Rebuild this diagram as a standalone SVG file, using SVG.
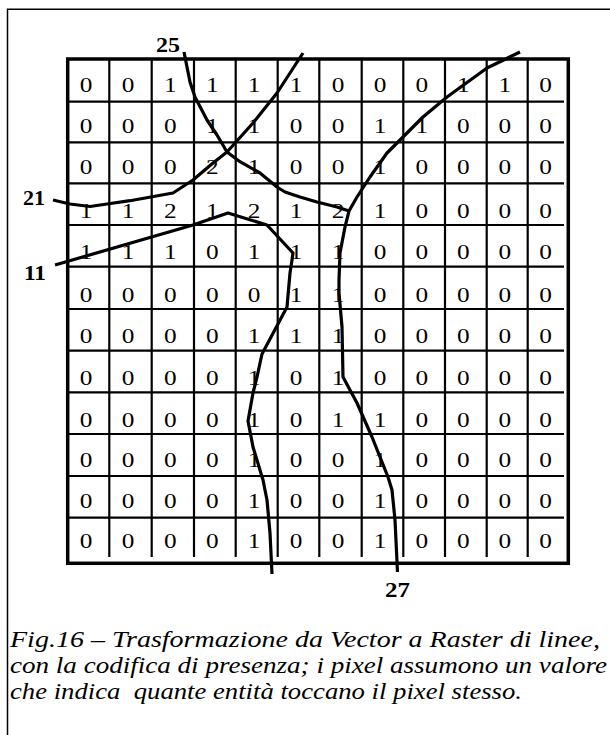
<svg xmlns="http://www.w3.org/2000/svg" width="610" height="735" viewBox="0 0 610 735">
<style>
.frame{fill:none;stroke:#000;stroke-width:1.5}
.border{fill:none;stroke:#000;stroke-width:3.5}
.gl{stroke:#000;stroke-width:2.2}
.cv{fill:none;stroke:#000;stroke-width:3.2;stroke-linejoin:round;stroke-linecap:butt}
.d{font-family:"Liberation Serif","Times New Roman",serif;font-size:22px;text-anchor:middle;fill:#000}
.lb{font-family:"Liberation Serif","Times New Roman",serif;font-size:21px;font-weight:bold;fill:#000}
.cap{font-family:"Liberation Serif","Times New Roman",serif;font-size:24px;font-style:italic;fill:#000}
</style>
<rect width="610" height="735" fill="#fff"/>
<path class="frame" d="M7.5 735 V9.3 H610"/>
<g id="grid">
<rect class="border" x="67.7" y="59" width="500.6" height="504.3"/>
<g class="gl">
<line x1="109.3" y1="59" x2="109.3" y2="557"/>
<line x1="151.7" y1="59" x2="151.7" y2="557"/>
<line x1="194" y1="59" x2="194" y2="557"/>
<line x1="235.7" y1="59" x2="235.7" y2="557"/>
<line x1="277.7" y1="59" x2="277.7" y2="557"/>
<line x1="319.3" y1="59" x2="319.3" y2="557"/>
<line x1="361.7" y1="59" x2="361.7" y2="557"/>
<line x1="403.3" y1="59" x2="403.3" y2="557"/>
<line x1="445" y1="59" x2="445" y2="557"/>
<line x1="486.7" y1="59" x2="486.7" y2="557"/>
<line x1="527.7" y1="59" x2="527.7" y2="557"/>
<line x1="68" y1="101.7" x2="564" y2="101.7"/>
<line x1="68" y1="142.3" x2="564" y2="142.3"/>
<line x1="68" y1="183.3" x2="564" y2="183.3"/>
<line x1="68" y1="225" x2="564" y2="225"/>
<line x1="68" y1="266.7" x2="564" y2="266.7"/>
<line x1="68" y1="309" x2="564" y2="309"/>
<line x1="68" y1="350.7" x2="564" y2="350.7"/>
<line x1="68" y1="392.3" x2="564" y2="392.3"/>
<line x1="68" y1="434" x2="564" y2="434"/>
<line x1="68" y1="476" x2="564" y2="476"/>
<line x1="68" y1="517.7" x2="564" y2="517.7"/>
</g>
</g>
<g id="cells" class="d" transform="scale(1.15 1)">
<g id="row0"><text x="74.8" y="92">0</text><text x="111.3" y="92">0</text><text x="148.1" y="92">1</text><text x="184.7" y="92">1</text><text x="221" y="92">1</text><text x="257.4" y="92">1</text><text x="293.9" y="92">0</text><text x="330.4" y="92">0</text><text x="366.7" y="92">0</text><text x="402.9" y="92">1</text><text x="438.9" y="92">1</text><text x="474.4" y="92">0</text></g>
<g id="row1"><text x="74.8" y="133">0</text><text x="111.3" y="133">0</text><text x="148.1" y="133">0</text><text x="184.7" y="133">1</text><text x="221" y="133">1</text><text x="257.4" y="133">0</text><text x="293.9" y="133">0</text><text x="330.4" y="133">1</text><text x="366.7" y="133">1</text><text x="402.9" y="133">0</text><text x="438.9" y="133">0</text><text x="474.4" y="133">0</text></g>
<g id="row2"><text x="74.8" y="174.3">0</text><text x="111.3" y="174.3">0</text><text x="148.1" y="174.3">0</text><text x="184.7" y="174.3">2</text><text x="221" y="174.3">1</text><text x="257.4" y="174.3">0</text><text x="293.9" y="174.3">0</text><text x="330.4" y="174.3">1</text><text x="366.7" y="174.3">0</text><text x="402.9" y="174.3">0</text><text x="438.9" y="174.3">0</text><text x="474.4" y="174.3">0</text></g>
<g id="row3"><text x="74.8" y="218.5">1</text><text x="111.3" y="218.5">1</text><text x="148.1" y="218.5">2</text><text x="184.7" y="218.5">1</text><text x="221" y="218.5">2</text><text x="257.4" y="218.5">1</text><text x="293.9" y="218.5">2</text><text x="330.4" y="218.5">1</text><text x="366.7" y="218.5">0</text><text x="402.9" y="218.5">0</text><text x="438.9" y="218.5">0</text><text x="474.4" y="218.5">0</text></g>
<g id="row4"><text x="74.8" y="259.5">1</text><text x="111.3" y="259.5">1</text><text x="148.1" y="259.5">1</text><text x="184.7" y="259.5">0</text><text x="221" y="259.5">1</text><text x="257.4" y="259.5">1</text><text x="293.9" y="259.5">1</text><text x="330.4" y="259.5">0</text><text x="366.7" y="259.5">0</text><text x="402.9" y="259.5">0</text><text x="438.9" y="259.5">0</text><text x="474.4" y="259.5">0</text></g>
<g id="row5"><text x="74.8" y="302">0</text><text x="111.3" y="302">0</text><text x="148.1" y="302">0</text><text x="184.7" y="302">0</text><text x="221" y="302">0</text><text x="257.4" y="302">1</text><text x="293.9" y="302">1</text><text x="330.4" y="302">0</text><text x="366.7" y="302">0</text><text x="402.9" y="302">0</text><text x="438.9" y="302">0</text><text x="474.4" y="302">0</text></g>
<g id="row6"><text x="74.8" y="343.5">0</text><text x="111.3" y="343.5">0</text><text x="148.1" y="343.5">0</text><text x="184.7" y="343.5">0</text><text x="221" y="343.5">1</text><text x="257.4" y="343.5">1</text><text x="293.9" y="343.5">1</text><text x="330.4" y="343.5">0</text><text x="366.7" y="343.5">0</text><text x="402.9" y="343.5">0</text><text x="438.9" y="343.5">0</text><text x="474.4" y="343.5">0</text></g>
<g id="row7"><text x="74.8" y="385.2">0</text><text x="111.3" y="385.2">0</text><text x="148.1" y="385.2">0</text><text x="184.7" y="385.2">0</text><text x="221" y="385.2">1</text><text x="257.4" y="385.2">0</text><text x="293.9" y="385.2">1</text><text x="330.4" y="385.2">0</text><text x="366.7" y="385.2">0</text><text x="402.9" y="385.2">0</text><text x="438.9" y="385.2">0</text><text x="474.4" y="385.2">0</text></g>
<g id="row8"><text x="74.8" y="427">0</text><text x="111.3" y="427">0</text><text x="148.1" y="427">0</text><text x="184.7" y="427">0</text><text x="221" y="427">1</text><text x="257.4" y="427">0</text><text x="293.9" y="427">1</text><text x="330.4" y="427">1</text><text x="366.7" y="427">0</text><text x="402.9" y="427">0</text><text x="438.9" y="427">0</text><text x="474.4" y="427">0</text></g>
<g id="row9"><text x="74.8" y="467">0</text><text x="111.3" y="467">0</text><text x="148.1" y="467">0</text><text x="184.7" y="467">0</text><text x="221" y="467">1</text><text x="257.4" y="467">0</text><text x="293.9" y="467">0</text><text x="330.4" y="467">1</text><text x="366.7" y="467">0</text><text x="402.9" y="467">0</text><text x="438.9" y="467">0</text><text x="474.4" y="467">0</text></g>
<g id="row10"><text x="74.8" y="508.5">0</text><text x="111.3" y="508.5">0</text><text x="148.1" y="508.5">0</text><text x="184.7" y="508.5">0</text><text x="221" y="508.5">1</text><text x="257.4" y="508.5">0</text><text x="293.9" y="508.5">0</text><text x="330.4" y="508.5">1</text><text x="366.7" y="508.5">0</text><text x="402.9" y="508.5">0</text><text x="438.9" y="508.5">0</text><text x="474.4" y="508.5">0</text></g>
<g id="row11"><text x="74.8" y="548.5">0</text><text x="111.3" y="548.5">0</text><text x="148.1" y="548.5">0</text><text x="184.7" y="548.5">0</text><text x="221" y="548.5">1</text><text x="257.4" y="548.5">0</text><text x="293.9" y="548.5">0</text><text x="330.4" y="548.5">1</text><text x="366.7" y="548.5">0</text><text x="402.9" y="548.5">0</text><text x="438.9" y="548.5">0</text><text x="474.4" y="548.5">0</text></g>
</g>
<g id="connectors">
<polyline id="line25" class="cv" points="184,52 190,82 195,97 207,120 217,135 227,152 240,161.7 260,173 277,187 285,192 300,197 317,202 337,207 349,211"/>
<polyline id="line27" class="cv" points="520,52 487,68 447,97 423,117 402,138 387,153 370,177 357,197 349,211 345,227 340,253 339,280 339,293 342,327 343,377 357,403 372,437 388,477 392,490 395,520 397.5,572"/>
<polyline id="line21" class="cv" points="53,200 70,204 90,206.5 107,204 130,200.7 173,193 193,180 213,163 227,152 253,123 277,93 303,53"/>
<polyline id="line11" class="cv" points="55,265 193,225 228,213 267,225 293,253 292,260 290,273 287,307 262,354 257,377 253,393 248,421 253,447 263,480 267,500 270,533 272,574"/>
</g>
<g id="labels" class="lb">
<text x="156" y="51.5" textLength="24" lengthAdjust="spacingAndGlyphs">25</text>
<text x="23" y="205" textLength="22" lengthAdjust="spacingAndGlyphs">21</text>
<text x="24" y="280" textLength="22" lengthAdjust="spacingAndGlyphs">11</text>
<text x="385" y="596.5" textLength="25" lengthAdjust="spacingAndGlyphs">27</text>
</g>
<g id="caption" class="cap">
<text x="10" y="647" textLength="590" lengthAdjust="spacingAndGlyphs">Fig.16 – Trasformazione da Vector a Raster di linee,</text>
<text x="10" y="673" textLength="597" lengthAdjust="spacingAndGlyphs">con la codifica di presenza; i pixel assumono un valore</text>
<text x="10" y="699" textLength="512" lengthAdjust="spacingAndGlyphs" xml:space="preserve">che indica  quante entità toccano il pixel stesso.</text>
</g>
</svg>
